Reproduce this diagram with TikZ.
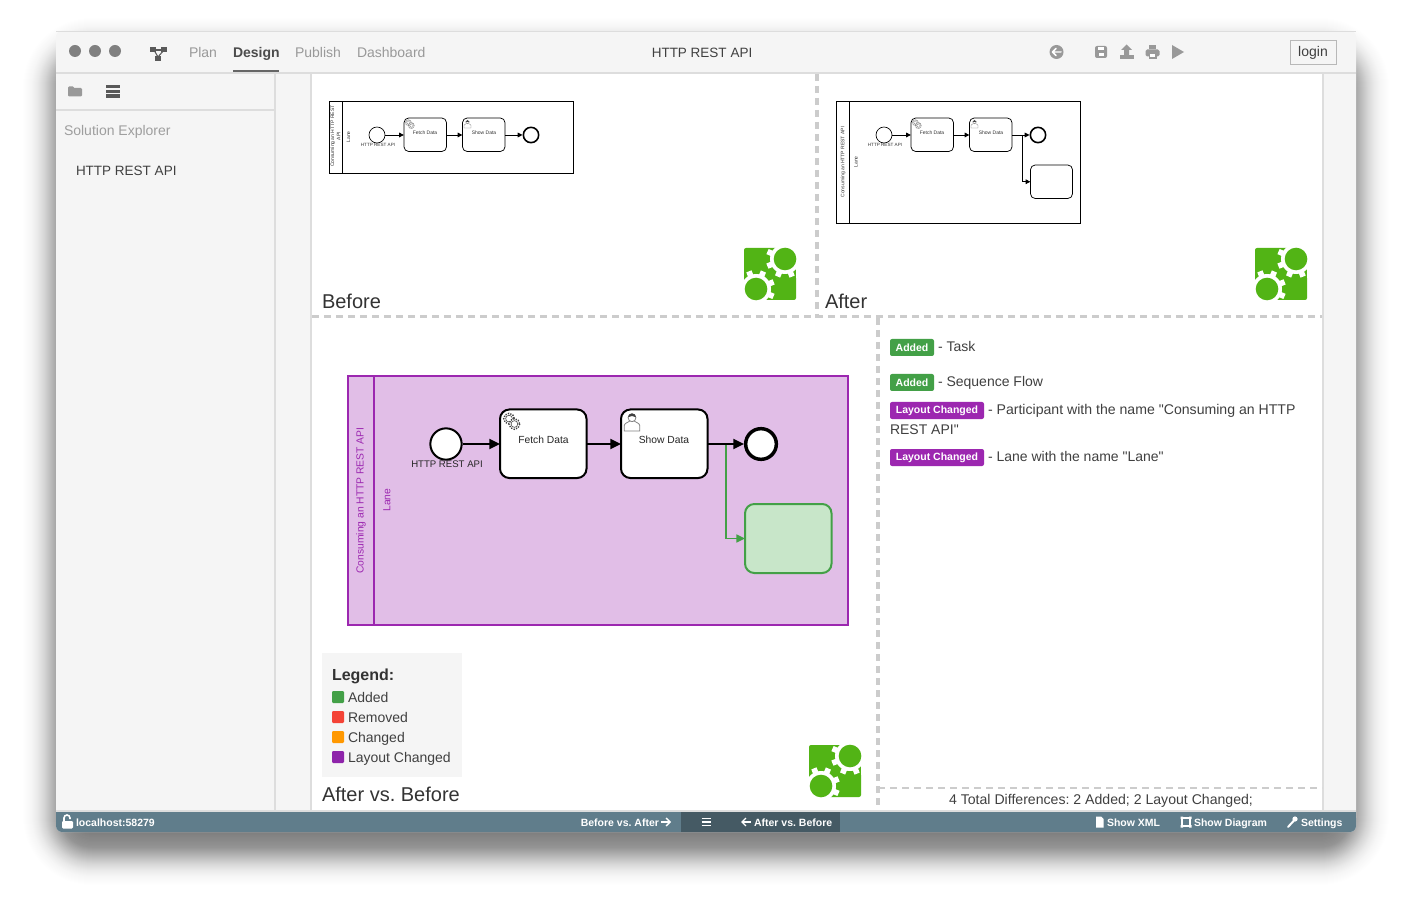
\documentclass[tikz,border=0pt]{standalone}
\usepackage{fontspec}
\setmainfont{Liberation Sans}[Ligatures=TeXOff]
\usetikzlibrary{arrows.meta}
\frenchspacing
\definecolor{barblue}{HTML}{607D8B}
\definecolor{bardark}{HTML}{455A64}
\definecolor{okgreen}{HTML}{43A047}
\definecolor{lightgreen}{HTML}{C8E6C9}
\definecolor{laypurple}{HTML}{9C27B0}
\definecolor{lightpurple}{HTML}{E1BEE7}
\definecolor{logogreen}{HTML}{52B415}
\definecolor{dashgray}{HTML}{CCCCCC}
\definecolor{rulegray}{HTML}{DDDDDD}
\definecolor{iconc}{HTML}{999999}
\newcommand\pxf[1]{\fontsize{\fpeval{#1*0.75}}{\fpeval{#1*0.95}}\selectfont}
\newcommand\bx[7]{\node[#1,anchor=north west,minimum width=\fpeval{(#5-#3)*0.75}pt,minimum height=\fpeval{(#6-#4)*0.75}pt,inner sep=0pt,outer sep=0pt] (#2) at (#3,#4) {#7};}
\newcommand\gearico[4]{\begin{scope}[shift={(#1,#2)},scale=#3]
 \foreach \gx/\gy/\gr in {-2.5/-2/4.4,2/2.5/4.4}{
 \fill[white,shift={(\gx,\gy)}] (0,0) circle (\gr);
 \draw[#4,line width=\fpeval{0.9*#3}pt,dash pattern=on \fpeval{0.8*#3}pt off \fpeval{0.8*#3}pt,shift={(\gx,\gy)}] (0,0) circle (\gr);
 \draw[#4,line width=\fpeval{0.35*#3}pt,shift={(\gx,\gy)}] (0,0) circle (\gr-1.6);
 }
\end{scope}}
\newcommand\personico[3]{\begin{scope}[shift={(#1,#2)},scale=#3]
 \draw[gray,line width=\fpeval{0.5*#3}pt,fill=white] (-7,9) -- (-7,4) .. controls (-7,2) and (-3,1) .. (-2,0) -- (2,0) .. controls (3,1) and (7,2) .. (7,4) -- (7,9) -- cycle;
 \draw[gray,line width=\fpeval{0.5*#3}pt,fill=white] (0,-3) circle (3.6);
 \fill[black!75] (-3.6,-3.4) .. controls (-3.6,-8) and (3.6,-8) .. (3.6,-3.4) .. controls (1,-5) and (-1,-5) .. cycle;
\end{scope}}
\newcommand\gearlogo[2]{\begin{scope}[shift={(#1,#2)}]
 \fill[logogreen,rounded corners=1.5pt] (0,0) rectangle (52,52);
 \foreach \cx/\cy in {41/11,12/41}{
 \fill[white] (\cx,\cy) circle (15);
 \foreach \a in {0,45,...,315}{\fill[white,shift={(\cx,\cy)},rotate=\a+22] (-2.8,0) rectangle (2.8,19);}
 }
 \fill[white] (41,-8) rectangle (60,11);
 \fill[white] (52.2,-8) rectangle (60,30);
 \fill[white] (-8,41) rectangle (12,60);
 \fill[white] (-8,22) rectangle (-0.2,60);
 \fill[logogreen] (41,11) circle (11.3);
 \fill[logogreen] (12,41) circle (11.3);
\end{scope}}
\tikzset{
 txt/.style={inner sep=0pt,outer sep=0pt,anchor=base west},
 ctxt/.style={inner sep=0pt,outer sep=0pt,anchor=base},
 rtxt/.style={inner sep=0pt,outer sep=0pt,anchor=base east},
 navitem/.style={txt,font=\pxf{14},text=iconc},
 darktxt/.style={txt,font=\pxf{14},text=black!75},
 heading/.style={txt,font=\pxf{20},text=black!80},
 stat/.style={font=\pxf{10.5}\bfseries,text=white},
 badge/.style={rounded corners=1.5pt,text=white,font=\pxf{10.5}\bfseries},
 taskbig/.style={draw=black,line width=1.5pt,fill=white,rounded corners=7pt},
 tasksmall/.style={draw=black,line width=.55pt,fill=white,rounded corners=3.5pt},
 flowbig/.style={line width=1.5pt,-{Triangle[length=8pt,width=7.5pt]}},
 flowsmall/.style={line width=.7pt,-{Triangle[length=3.6pt,width=3.4pt]}},
 tinylab/.style={inner sep=0pt,font=\pxf{5},text=black!80,align=center},
 eventlab/.style={inner sep=0pt,font=\pxf{4.6},text=black!80,align=center},
 smalllab/.style={inner sep=0pt,font=\pxf{10.3},text=black!85,align=center},
 dashv/.style={draw=dashgray,line width=2.5pt,dash pattern=on 5.25pt off 3.75pt},
}
\begin{document}
\begin{tikzpicture}[x=0.75pt,y=-0.75pt]
\useasboundingbox (0,0) rectangle (1412,912);
\fill[white] (0,0) rectangle (1412,912);
% shadow
\foreach \e in {-24,-23,...,52}{
 \pgfmathsetmacro\al{0.0165*exp(-((\e-3)/21)*((\e-3)/21))}
 \fill[black,opacity=\al,rounded corners=\fpeval{(\e+36)*0.75}pt] (56-\e,51-\e) rectangle (1356+\e,852+\e);
}
% window
\fill[white!96!black,rounded corners=4.5pt] (56,31) rectangle (1356,832);
\draw[rulegray,line width=.5pt,rounded corners=4.5pt] (56,31) -- (1356,31);
\fill[white] (312,74) rectangle (1322,811);
\fill[barblue,rounded corners=4.5pt] (56,812) rectangle (1356,832);
\fill[barblue] (56,812) rectangle (1356,822);
\fill[bardark] (681,812) rectangle (840,832);
% separators
\draw[rulegray,line width=1.5pt] (56,73) -- (1356,73);
\draw[rulegray,line width=1.5pt] (56,110.5) -- (275,110.5);
\draw[rulegray,line width=1.5pt] (275,73) -- (275,811);
\draw[rulegray,line width=1.5pt] (311,73) -- (311,811);
\draw[rulegray,line width=1.5pt] (1323,73) -- (1323,811);
\draw[rulegray,line width=1.5pt] (56,811) -- (1356,811);
% traffic lights
\foreach \cx in {75,95,115}{\fill[black!50] (\cx,51) circle (6);}
% tree icon
\fill[black!65] (150,47) rectangle (156,52);
\fill[black!65] (161,47) rectangle (167,52);
\fill[black!65] (155,56) rectangle (161,61);
\draw[black!65,line width=.8pt] (154,50) -- (158,57) -- (164,50);
\draw[black!65,line width=.8pt] (154,50) -- (164,50);
% nav text
\node[navitem] (nplan) at (189,57.7) {Plan};
\node[txt,font=\pxf{14}\bfseries,text=black!70] (ndesign) at (233,57.7) {Design};
\node[navitem] (npublish) at (295,57.7) {Publish};
\node[navitem] (ndash) at (357,57.7) {Dashboard};
\draw[black!60,line width=1.5pt] (233,71) -- (279,71);
\node[ctxt,font=\pxf{13.5},text=black!75] (ntitle) at (702,57.7) {HTTP REST API};
% right icons
\fill[iconc] (1056.5,52) circle (7);
\draw[white,line width=1.1pt,line cap=round,line join=round] (1061,52) -- (1052.5,52) (1056,48.5) -- (1052.5,52) -- (1056,55.5);
\fill[iconc,rounded corners=1.5pt] (1095,46) rectangle (1107,58);
\fill[white] (1098,47.5) rectangle (1103.5,50);
\fill[white] (1098.5,53) rectangle (1103.5,56.5);
\fill[iconc] (1126.5,44.5) -- (1132,50) -- (1129,50) -- (1129,55) -- (1124,55) -- (1124,50) -- (1121,50) -- cycle;
\fill[iconc] (1119.5,55.5) rectangle (1133.5,59);
\fill[iconc] (1149,45) rectangle (1156,49);
\fill[iconc,rounded corners=1.2pt] (1145.5,49.5) rectangle (1159.5,56.5);
\fill[iconc] (1148.5,55) rectangle (1156.5,59);
\fill[white] (1150,54) rectangle (1155,57.5);
\fill[iconc] (1172,45) -- (1184,52) -- (1172,59) -- cycle;
\bx{draw=black!28,line width=.75pt}{login}{1290}{40.5}{1336}{64.5}{\raisebox{-.5pt}{\pxf{14}\color{black!75}login}}
% sidebar
\fill[iconc,rounded corners=.8pt] (68,86.5) rectangle (74,90);
\fill[iconc,rounded corners=.8pt] (68,88) rectangle (82,96.5);
\foreach \yy in {85,89.6,94.2}{\fill[black!65] (106,\yy) rectangle (120,\yy+3.4);}
\node[txt,font=\pxf{14},text=black!38] (solex) at (64,135.7) {Solution Explorer};
\node[txt,font=\pxf{13.5},text=black!75] (solitem) at (76,175.7) {HTTP REST API};
% --- Before
\bx{draw=black,line width=.75pt,fill=white}{bpool}{329}{101.5}{573.5}{173.5}{}
\draw[black,line width=.75pt] (342,101.5) -- (342,173.5);
\node[tinylab,rotate=90] (bpname) at (335.5,136) {Consuming an HTTP REST\\API};
\node[tinylab,rotate=90] (blane) at (348.5,137) {Lane};
\node[draw=black,line width=.5pt,fill=white,circle,minimum size=12pt,inner sep=0pt] (bs) at (377,135) {};
\node[eventlab] (bsl) at (378,145) {HTTP REST API};
\bx{tasksmall}{bt1}{404}{118}{446.5}{151.5}{}
\bx{tasksmall}{bt2}{462.5}{118}{505}{151.5}{}
\node[tinylab] (bt1l) at (425,132.5) {Fetch Data};
\node[tinylab] (bt2l) at (484,132.5) {Show Data};
\node[draw=black,line width=1.2pt,fill=white,circle,minimum size=11.5pt,inner sep=0pt] (be) at (531,135) {};
\gearico{410}{124}{.65}{black!55}
\personico{467.5}{123.5}{.5}
\draw[flowsmall] (bs.east) -- (bs.east -| bt1.west);
\draw[flowsmall] (bt1.east |- bs) -- (bs -| bt2.west);
\draw[flowsmall] (bt2.east |- bs) -- (be.west);
% --- After
\bx{draw=black,line width=.75pt,fill=white}{apool}{836}{101.5}{1080.5}{223.5}{}
\draw[black,line width=.75pt] (849,101.5) -- (849,223.5);
\node[tinylab,rotate=90] (apname) at (843,162) {Consuming an HTTP REST API};
\node[tinylab,rotate=90] (alane) at (856,162) {Lane};
\node[draw=black,line width=.5pt,fill=white,circle,minimum size=12pt,inner sep=0pt] (as) at (884,135) {};
\node[eventlab] (asl) at (885,145) {HTTP REST API};
\bx{tasksmall}{at1}{911}{118}{953.5}{151.5}{}
\bx{tasksmall}{at2}{969.5}{118}{1012}{151.5}{}
\bx{tasksmall}{at3}{1030.5}{165}{1072.5}{198.5}{}
\node[tinylab] (at1l) at (932,132.5) {Fetch Data};
\node[tinylab] (at2l) at (991,132.5) {Show Data};
\node[draw=black,line width=1.2pt,fill=white,circle,minimum size=11.5pt,inner sep=0pt] (ae) at (1038,135) {};
\gearico{917}{124}{.65}{black!55}
\personico{974.5}{123.5}{.5}
\draw[flowsmall] (as.east) -- (as.east -| at1.west);
\draw[flowsmall] (at1.east |- as) -- (as -| at2.west);
\coordinate (abr) at (1022,135);
\draw[flowsmall] (at2.east |- as) -- (ae.west);
\draw[flowsmall] (abr) |- (at3.west);
% logos
\gearlogo{744}{248}
\gearlogo{1255}{248}
\gearlogo{809}{745}
% labels
\node[heading] (lbefore) at (322,308.7) {Before};
\node[heading] (lafter) at (825,308.7) {After};
\node[heading] (lavb) at (322,801) {After vs. Before};
% dashed dividers
\draw[dashv] (817,74) -- (817,318);
\draw[dashv] (312,316.8) -- (1322,316.8);
\draw[dashv] (878,318) -- (878,807);
\draw[dashgray,line width=1.5pt,dash pattern=on 5.25pt off 3.75pt] (878,788) -- (1322,788);
% --- Compare
\bx{draw=laypurple,line width=1.5pt,fill=lightpurple}{cpool}{348}{376}{848}{625}{}
\draw[laypurple,line width=1.5pt] (374,376) -- (374,625);
\node[inner sep=0pt,rotate=90,font=\pxf{10.3},text=laypurple] (cpname) at (361,500.5) {Consuming an HTTP REST API};
\node[inner sep=0pt,rotate=90,font=\pxf{10.3},text=laypurple] (clane) at (387,500) {Lane};
\node[draw=black,line width=1.5pt,fill=white,circle,minimum size=23.5pt,inner sep=0pt] (cs) at (446,444) {};
\node[inner sep=0pt,font=\pxf{9.6},text=black!85] (csl) at (447,464) {HTTP REST API};
\bx{taskbig}{ct1}{500}{409.5}{586.5}{478}{}
\bx{taskbig}{ct2}{621}{409.5}{707.5}{478}{}
\bx{draw=okgreen,line width=1.5pt,fill=lightgreen,rounded corners=7pt}{ct3}{745}{504}{831.5}{573}{}
\node[smalllab] (ct1l) at (543.5,439.7) {Fetch Data};
\node[smalllab] (ct2l) at (664,439.7) {Show Data};
\node[draw=black,line width=2.6pt,fill=white,circle,minimum size=23pt,inner sep=0pt] (ce) at (761,444) {};
\gearico{512}{421}{1.2}{black!75}
\personico{632}{421}{1.1}
\draw[flowbig] (cs.east) -- (cs.east -| ct1.west);
\draw[flowbig] (ct1.east |- cs) -- (cs -| ct2.west);
\coordinate (cbr) at (726,444);
\draw[okgreen,line width=1.1pt,-{Triangle[length=6.5pt,width=6pt]}] (cbr) |- (ct3.west);
\draw[flowbig] (ct2.east |- cs) -- (ce.west);
% legend
\bx{fill=black!4}{legbox}{322}{653}{462}{777}{}
\node[txt,font=\pxf{16}\bfseries,text=black!80] (legt) at (332,680) {Legend:};
\definecolor{legred}{HTML}{F44336}
\definecolor{legorange}{HTML}{FF9800}
\definecolor{legpurple}{HTML}{8E24AA}
\fill[okgreen,rounded corners=.8pt] (332,691) rectangle (344,703);
\fill[legred,rounded corners=.8pt] (332,711) rectangle (344,723);
\fill[legorange,rounded corners=.8pt] (332,731) rectangle (344,743);
\fill[legpurple,rounded corners=.8pt] (332,751) rectangle (344,763);
\node[darktxt] (l1) at (348,702) {Added};
\node[darktxt] (l2) at (348,722) {Removed};
\node[darktxt] (l3) at (348,742) {Changed};
\node[darktxt] (l4) at (348,762) {Layout Changed};
% differences
\bx{badge,fill=okgreen}{b1}{890}{339}{934}{356}{Added}
\bx{badge,fill=okgreen}{b2}{890}{374}{934}{391}{Added}
\bx{badge,fill=laypurple}{b3}{890}{402}{984}{419}{Layout Changed}
\bx{badge,fill=laypurple}{b4}{890}{449}{984}{466}{Layout Changed}
\node[darktxt] (d1) at (938,351.7) {- Task};
\node[darktxt] (d2) at (938,386.7) {- Sequence Flow};
\node[txt,font=\pxf{14.1},text=black!75] (d3) at (988,414) {- Participant with the name "Consuming an HTTP};
\node[darktxt] (d3b) at (890,434) {REST API"};
\node[darktxt] (d4) at (988,461) {- Lane with the name "Lane"};
\node[ctxt,font=\pxf{14.1},text=black!75] (dtot) at (1101,804) {4 Total Differences: 2 Added; 2 Layout Changed;};
% status bar
\fill[white,rounded corners=.8pt] (62,821) rectangle (73,828.5);
\draw[white,line width=1.2pt] (64,821) -- (64,818) arc (180:360:3) -- (70,819);
\node[txt,stat] (sloc) at (76,826) {localhost:58279};
\node[rtxt,stat] (sba) at (659,826) {Before vs. After};
\coordinate (sra) at (661,822);
\coordinate (srb) at (671,822);
\draw[white,line width=1pt,-{Straight Barb[length=3pt,width=6pt]}] (sra) -- (srb);
\foreach \yy in {818.5,822,825.5}{\draw[white,line width=.9pt] (701.5,\yy) -- (710.5,\yy);}
\coordinate (sla) at (751,822);
\coordinate (slb) at (741,822);
\draw[white,line width=1pt,-{Straight Barb[length=3pt,width=6pt]}] (sla) -- (slb);
\node[txt,stat] (sab) at (754,826) {After vs. Before};
\fill[white] (1096,816.5) -- (1101,816.5) -- (1103.5,819) -- (1103.5,827.5) -- (1096,827.5) -- cycle;
\node[txt,stat] (sxml) at (1107,826) {Show XML};
\draw[white,line width=1pt] (1182,818) rectangle (1190,826);
\fill[white] (1180.5,816.5) rectangle (1183,819) (1189,816.5) rectangle (1191.5,819) (1180.5,825) rectangle (1183,827.5) (1189,825) rectangle (1191.5,827.5);
\node[txt,stat] (sdia) at (1194,826) {Show Diagram};
\draw[white,line width=1.5pt,line cap=round] (1288,827) -- (1294,820.5);
\fill[white] (1295,819) circle (2.6);
\node[txt,stat] (sset) at (1301,826) {Settings};
\end{tikzpicture}
\end{document}
